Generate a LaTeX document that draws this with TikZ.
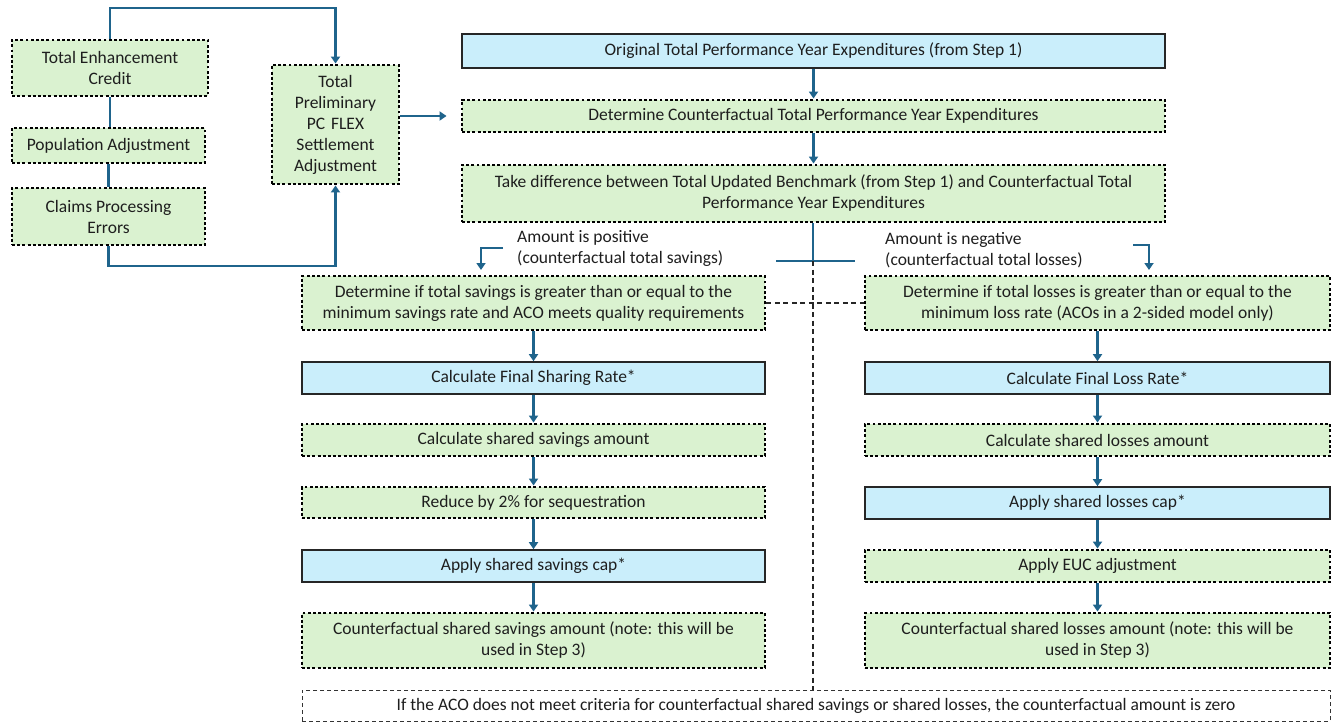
\documentclass[tikz,border=0pt]{standalone}
\usepackage{fontspec}
\setmainfont{Carlito}
\usetikzlibrary{arrows.meta}
\definecolor{stepgreen}{RGB}{218,242,208}
\definecolor{stepblue}{RGB}{202,238,251}
\definecolor{flowblue}{RGB}{31,100,140}
\definecolor{inkgray}{RGB}{30,30,30}
\tikzset{
  base/.style={rectangle, inner sep=2pt, align=center, text=inkgray,
    font=\fontsize{17.5}{21}\selectfont},
  greenbox/.style={base, fill=stepgreen, draw=black, line width=2.9pt,
    dash pattern=on 2.9pt off 2.3pt},
  bluebox/.style={base, fill=stepblue, draw=black!85, line width=1.6pt},
  notebox/.style={base, fill=white, draw=black!80, line width=0.9pt,
    dash pattern=on 4pt off 3pt},
  flow/.style={draw=flowblue, line width=2.2pt},
  arr/.style={flow, -{Triangle[length=7pt,width=9pt]}},
  sep/.style={draw=black!85, line width=1.1pt, dash pattern=on 5pt off 3.5pt},
  lbl/.style={text=inkgray, align=left, inner sep=0pt,
    font=\fontsize{17.5}{21}\selectfont},
}
\begin{document}
\begin{tikzpicture}[x=1pt, y=-1pt]
\useasboundingbox (0,0) rectangle (1333,723);

% left-hand adjustment inputs
\node[greenbox, minimum width=196pt, minimum height=56pt] (tec) at (110,68) {Total Enhancement\\Credit};
\node[greenbox, minimum width=193pt, minimum height=35pt] (pop) at (108.5,145.5) {Population Adjustment};
\node[greenbox, minimum width=193pt, minimum height=57pt] (cpe) at (108.5,216.5) {Claims Processing\\Errors};
\node[greenbox, minimum width=127pt, minimum height=119pt, text width=118pt] (tpp) at (335.5,124.5) {Total\\Preliminary\\PC FLEX\\Settlement\\Adjustment};

% main trunk
\node[bluebox, minimum width=703pt, minimum height=34pt] (orig) at (813.5,51) {Original Total Performance Year Expenditures (from Step 1)};
\node[greenbox, minimum width=703pt, minimum height=32pt] (detc) at (813.5,116) {Determine Counterfactual Total Performance Year Expenditures};
\node[greenbox, minimum width=703pt, minimum height=57pt] (diff) at (813.5,193.5) {Take difference between Total Updated Benchmark (from Step 1) and Counterfactual Total\\Performance Year Expenditures};

% savings branch
\node[greenbox, minimum width=463pt, minimum height=54pt] (ldet) at (533.5,303) {Determine if total savings is greater than or equal to the\\minimum savings rate and ACO meets quality requirements};
\node[bluebox, minimum width=463pt, minimum height=32pt] (lrate) at (533.5,378) {Calculate Final Sharing Rate*};
\node[greenbox, minimum width=463pt, minimum height=32pt] (lamt) at (533.5,440) {Calculate shared savings amount};
\node[greenbox, minimum width=463pt, minimum height=31pt] (lseq) at (533.5,502.5) {Reduce by 2\% for sequestration};
\node[bluebox, minimum width=463pt, minimum height=32pt] (lcap) at (533.5,566) {Apply shared savings cap*};
\node[greenbox, minimum width=463pt, minimum height=55pt] (lout) at (533.5,640.5) {Counterfactual shared savings amount (note: this will be\\used in Step 3)};

% losses branch
\node[greenbox, minimum width=465pt, minimum height=54pt] (rdet) at (1097.5,303) {Determine if total losses is greater than or equal to the\\minimum loss rate (ACOs in a 2-sided model only)};
\node[bluebox, minimum width=465pt, minimum height=32pt] (rrate) at (1097.5,378) {Calculate Final Loss Rate*};
\node[greenbox, minimum width=465pt, minimum height=32pt] (ramt) at (1097.5,440) {Calculate shared losses amount};
\node[bluebox, minimum width=465pt, minimum height=32pt] (rcap) at (1097.5,503) {Apply shared losses cap*};
\node[greenbox, minimum width=465pt, minimum height=32pt] (reuc) at (1097.5,566) {Apply EUC adjustment};
\node[greenbox, minimum width=465pt, minimum height=55pt] (rout) at (1097.5,640.5) {Counterfactual shared losses amount (note: this will be\\used in Step 3)};

% closing note
\node[notebox, minimum width=1028pt, minimum height=31pt] (note) at (816,705.5) {If the ACO does not meet criteria for counterfactual shared savings or shared losses, the counterfactual amount is zero};

% branch labels
\node[lbl, anchor=north west] (pos) at (517,230) {Amount is positive\\(counterfactual total savings)};
\node[lbl, anchor=north west] (neg) at (885,232) {Amount is negative\\(counterfactual total losses)};

% helper points
\coordinate (top) at (0,8);
\coordinate (bot) at (0,266);
\coordinate (split) at (813,261);
\coordinate (splitL) at (776,261);
\coordinate (splitR) at (855,261);
\coordinate (posA) at (503,248);
\coordinate (posB) at (481,270);
\coordinate (negA) at (1133,245);
\coordinate (negB) at (1149,270);

% adjustment connectors
\draw[flow] (tec.south) -- (tec.south |- pop.north);
\draw[flow] (pop.south) -- (pop.south |- cpe.north);
\draw[arr] (tec.north) -- (tec.north |- top) -| (tpp.north);
\draw[arr] (cpe.south) -- (cpe.south |- bot) -| (tpp.south);
\draw[arr, shorten >=14pt] (tpp.east |- detc) -- (detc.west);

% trunk connectors
\draw[arr] (orig.south) -- (detc.north);
\draw[arr] (detc.south) -- (diff.north);
\draw[flow] (diff.south -| split) -- (split);
\draw[flow] (splitL) -- (splitR);
\draw[arr] (posA) -| (posB);
\draw[arr] (negA) -| (negB);

% separators
\draw[sep] (split) -- (split |- note.north);
\draw[sep] (ldet.east) -- (rdet.west);

% savings chain
\draw[arr] (ldet.south) -- (lrate.north);
\draw[arr] (lrate.south) -- (lamt.north);
\draw[arr] (lamt.south) -- (lseq.north);
\draw[arr] (lseq.south) -- (lcap.north);
\draw[arr] (lcap.south) -- (lout.north);

% losses chain
\draw[arr] (rdet.south) -- (rrate.north);
\draw[arr] (rrate.south) -- (ramt.north);
\draw[arr] (ramt.south) -- (rcap.north);
\draw[arr] (rcap.south) -- (reuc.north);
\draw[arr] (reuc.south) -- (rout.north);
\end{tikzpicture}
\end{document}
